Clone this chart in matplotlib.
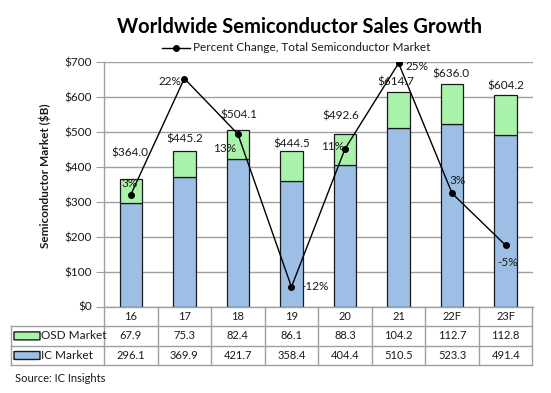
"""
Worldwide Semiconductor Sales Growth

Stacked bars (IC + OSD market, $B) with the yearly percent change of the
total market on a hidden secondary axis, plus an Excel-style data table.

Output:
    - out.png
"""

import matplotlib.pyplot as plt
from matplotlib.lines import Line2D
from matplotlib.patches import FancyBboxPatch

# ============================================================================
# DATA
# ============================================================================

years = ['16', '17', '18', '19', '20', '21', '22F', '23F']
osd_market = [67.9, 75.3, 82.4, 86.1, 88.3, 104.2, 112.7, 112.8]
ic_market = [296.1, 369.9, 421.7, 358.4, 404.4, 510.5, 523.3, 491.4]
total_market = [364.0, 445.2, 504.1, 444.5, 492.6, 614.7, 636.0, 604.2]
pct_change = [3.3, 22.3, 13.2, -11.8, 10.8, 24.8, 3.5, -5.0]
pct_labels = ['3%', '22%', '13%', '-12%', '11%', '25%', '3%', '-5%']

# ============================================================================
# STYLE / LAYOUT
# ============================================================================

W, H = 551, 393
FONT = ['Lato', 'DejaVu Sans']

COLORS = {
    'ic': '#9dbfe6',
    'osd': '#a9f2a9',
    'edge': '#1a1a1a',
    'grid': '#a0a0a0',
    'text': '#1a1a1a',
}

# hand placed label nudges (pixels) as in the original sheet
TOTAL_DX = [-0.5, 0, 1, 0, -4.5, -2.7, -1.5, 0]
TOTAL_DY = [26, 12, 15.6, 7, 18, 9.6, 10, 9.6]
PCT_DX = [-1, -14, -13, 23, -12, 18, 5, 2]
PCT_DY = [11, -3, -14, 0, 2, -3, 13, -17]

# plot area in pixels
PX_LEFT, PX_RIGHT, PX_TOP, PX_BOTTOM = 104, 532.5, 62, 306.5
TABLE_LEFT, TABLE_BOTTOM = 10.7, 365.3

plt.rcParams['font.family'] = FONT


def fx(px):
    return px / W


def fy(py):
    return 1 - py / H


def plot_chart():
    fig = plt.figure(figsize=(W / 100, H / 100), dpi=100)

    # ---------------- main axes ----------------
    ax = fig.add_axes([fx(PX_LEFT), fy(PX_BOTTOM),
                       (PX_RIGHT - PX_LEFT) / W, (PX_BOTTOM - PX_TOP) / H])
    x = range(len(years))
    ax.bar(x, ic_market, width=0.42, color=COLORS['ic'],
           edgecolor=COLORS['edge'], linewidth=0.9, zorder=2)
    ax.bar(x, osd_market, width=0.42, bottom=ic_market, color=COLORS['osd'],
           edgecolor=COLORS['edge'], linewidth=0.9, zorder=2)

    for i, tot in enumerate(total_market):
        ax.annotate(f'${tot:.1f}', (i, tot), xytext=(TOTAL_DX[i], TOTAL_DY[i]),
                    textcoords='offset pixels', ha='center', va='center',
                    fontsize=8.5, color=COLORS['text'], zorder=5)

    ax.set_xlim(-0.5, len(years) - 0.5)
    ax.set_ylim(0, 700)
    ax.set_yticks(range(0, 701, 100))
    ax.set_yticklabels([f'${v}' for v in range(0, 701, 100)])
    ax.tick_params(axis='y', length=5.5, width=0.8, color=COLORS['grid'],
                   pad=3, labelsize=8.5, labelcolor=COLORS['text'])
    ax.tick_params(axis='x', bottom=False, labelbottom=False)
    ax.grid(axis='y', color=COLORS['grid'], linewidth=1.0, zorder=0)
    ax.set_axisbelow(True)
    for side in ['top', 'right']:
        ax.spines[side].set_visible(False)
    for side in ['left', 'bottom']:
        ax.spines[side].set_color(COLORS['grid'])
        ax.spines[side].set_linewidth(1.0)

    fig.text(fx(45), fy(176), 'Semiconductor Market ($B)', rotation=90,
             ha='center', va='center', fontsize=8.5, fontweight='bold',
             color=COLORS['text'])

    # ---------------- percent change line ----------------
    ax2 = ax.twinx()
    ax2.set_ylim(-15, 25)
    ax2.axis('off')
    ax2.plot(x, pct_change, color='black', linewidth=1.0, marker='o',
             markersize=4, zorder=4)
    for i, (val, lab) in enumerate(zip(pct_change, pct_labels)):
        ax2.annotate(lab, (i, val), xytext=(PCT_DX[i], PCT_DY[i]),
                     textcoords='offset pixels', ha='center', va='center',
                     fontsize=8.5, color=COLORS['text'])

    # ---------------- title and legend ----------------
    fig.text(fx(299.5), fy(27), 'Worldwide Semiconductor Sales Growth',
             ha='center', va='center', fontsize=14.5, fontweight='bold',
             color='black')
    fig.add_artist(Line2D([fx(161.7), fx(190)], [fy(47.7), fy(47.7)],
                          color='black', linewidth=1.0))
    fig.add_artist(Line2D([fx(176)], [fy(47.7)], color='black', marker='o',
                          markersize=4))
    fig.text(fx(193), fy(47.7), 'Percent Change, Total Semiconductor Market',
             ha='left', va='center', fontsize=8.5, color=COLORS['text'])

    # ---------------- data table ----------------
    cat_px = (PX_RIGHT - PX_LEFT) / len(years)
    x_left = -0.5 - (PX_LEFT - TABLE_LEFT) / cat_px
    tax = fig.add_axes([fx(TABLE_LEFT), fy(TABLE_BOTTOM),
                        (PX_RIGHT - TABLE_LEFT) / W,
                        (TABLE_BOTTOM - PX_BOTTOM) / H])
    tax.set_xlim(x_left, len(years) - 0.5)
    tax.set_ylim(0, 3)
    tax.axis('off')

    line_kw = dict(color=COLORS['grid'], linewidth=1.0, clip_on=False)
    for yy in [0, 1, 2]:
        tax.plot([x_left, len(years) - 0.5], [yy, yy], **line_kw)
    for k in range(len(years) + 1):
        tax.plot([k - 0.5, k - 0.5], [0, 3], **line_kw)
    tax.plot([x_left, x_left], [0, 2], **line_kw)

    for i, year in enumerate(years):
        tax.text(i, 2.5, year, ha='center', va='center', fontsize=8,
                 color=COLORS['text'])
        tax.text(i, 1.5, f'{osd_market[i]:.1f}', ha='center', va='center',
                 fontsize=8, color=COLORS['text'])
        tax.text(i, 0.5, f'{ic_market[i]:.1f}', ha='center', va='center',
                 fontsize=8, color=COLORS['text'])

    row_h = (TABLE_BOTTOM - PX_BOTTOM) / 3
    key_w = 26 / cat_px
    key_h = 8 / row_h
    for yc, name, col in [(1.5, 'OSD Market', COLORS['osd']),
                          (0.5, 'IC Market', COLORS['ic'])]:
        tax.add_patch(FancyBboxPatch((x_left + 3.3 / cat_px, yc - key_h / 2),
                                     key_w, key_h,
                                     boxstyle='round,pad=0,rounding_size=0.05',
                                     facecolor=col, edgecolor=COLORS['edge'],
                                     linewidth=1.0, mutation_aspect=1 / 4,
                                     clip_on=False))
        tax.text(x_left + 30.5 / cat_px, yc, name, ha='left', va='center',
                 fontsize=8.5, color=COLORS['text'])

    fig.text(fx(15), fy(379), 'Source: IC Insights', ha='left', va='center',
             fontsize=8, color=COLORS['text'])

    fig.savefig('out.png', dpi=100)
    plt.close(fig)


def main():
    plot_chart()


if __name__ == '__main__':
    main()
